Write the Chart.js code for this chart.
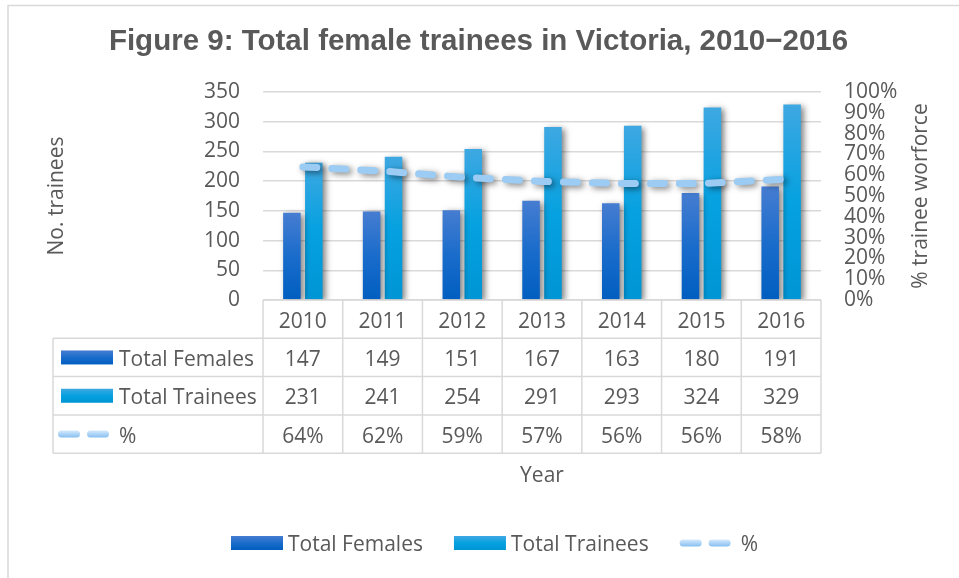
<!DOCTYPE html>
<html>
<head>
<meta charset="utf-8">
<title>Figure 9</title>
<script src="https://cdn.jsdelivr.net/npm/chart.js@4.4.1/dist/chart.umd.min.js"></script>
<style>
  html, body { margin: 0; padding: 0; background: #fff; }
  #grafico-wrap { width: 959px; height: 578px; position: relative; }
</style>
</head>
<body>
<div id="grafico-wrap"><canvas id="grafico"></canvas></div>
<script>
// ------------------------------------------------------------
// Dados (Figure 9)
// ------------------------------------------------------------
const anos          = ['2010', '2011', '2012', '2013', '2014', '2015', '2016'];
const totalFemales  = [147, 149, 151, 167, 163, 180, 191];
const totalTrainees = [231, 241, 254, 291, 293, 324, 329];
const percentual    = [64, 62, 59, 57, 56, 56, 58];

const nomesSeries = ['Total Females', 'Total Trainees', '%'];

// eixos
const eixoTraineesMax = 350, eixoTraineesPasso = 50;
const eixoPctMax = 100, eixoPctPasso = 10;

// estilo
const FONTE   = "'Open Sans', Lato, sans-serif";
const TITULO  = "'Liberation Sans', Arial, sans-serif";
const CINZA   = '#595959';
const GRADE   = '#d9d9d9';
const TAM     = 21;

// gradiente vertical de cada barra (do topo da barra até o zero)
function gradienteBarra(context, cores) {
  const chart = context.chart;
  const y = chart.scales.y;
  if (!chart.chartArea || !y || context.raw == null) return cores[cores.length - 1];
  const topo = y.getPixelForValue(context.raw);
  const base = y.getPixelForValue(0);
  const g = chart.ctx.createLinearGradient(0, topo, 0, base);
  cores.forEach((c, i) => g.addColorStop(i / (cores.length - 1), c));
  return g;
}

const coresFemales  = ['#467dd1', '#1a6ccb', '#005ec0'];
const coresTrainees = ['#3ea8e2', '#05a1e0', '#0095d5'];
const corLinha      = '#9ccbf3';

// desenha a amostra (legenda / tabela) de cada série
function desenharAmostra(ctx, serie, x, yMeio) {
  if (serie < 2) {
    const cores = serie === 0 ? coresFemales : coresTrainees;
    const g = ctx.createLinearGradient(0, yMeio - 7, 0, yMeio + 7);
    cores.forEach((c, i) => g.addColorStop(i / (cores.length - 1), c));
    ctx.fillStyle = g;
    ctx.fillRect(x, yMeio - 7, 52, 14);
  } else {
    const g = ctx.createLinearGradient(0, yMeio - 3.5, 0, yMeio + 3.5);
    g.addColorStop(0, '#d4e9fc');
    g.addColorStop(1, '#86bff0');
    ctx.strokeStyle = g;
    ctx.lineWidth = 7;
    ctx.lineCap = 'round';
    ctx.beginPath();
    ctx.moveTo(x + 3.5, yMeio); ctx.lineTo(x + 18.5, yMeio);
    ctx.moveTo(x + 32.5, yMeio); ctx.lineTo(x + 47.5, yMeio);
    ctx.stroke();
  }
}

// sombra cinza atrás das barras e da linha, como no Excel
const sombra = {
  id: 'sombra',
  beforeDatasetDraw(chart) {
    const ctx = chart.ctx;
    ctx.save();
    ctx.shadowColor = 'rgba(0,0,0,0.5)';
    ctx.shadowBlur = 6;
    ctx.shadowOffsetX = 3;
    ctx.shadowOffsetY = 2;
  },
  afterDatasetDraw(chart) {
    chart.ctx.restore();
  }
};

// tabela de dados abaixo do gráfico + título do eixo direito + legenda + moldura
const tabelaDados = {
  id: 'tabelaDados',
  afterDraw(chart) {
    const ctx = chart.ctx;
    const area = chart.chartArea;
    const n = anos.length;
    const larg = (area.right - area.left) / n;
    const alt = 38.3;
    const esq = 53;
    const y0 = area.bottom;
    const ajuste = 2.5; // Open Sans fica um pouco alta com baseline 'middle'

    ctx.save();

    // moldura externa (só topo e esquerda aparecem)
    ctx.strokeStyle = GRADE;
    ctx.lineWidth = 1.5;
    ctx.beginPath();
    ctx.moveTo(8, 578); ctx.lineTo(8, 5.5); ctx.lineTo(959, 5.5);
    ctx.stroke();

    // linhas da tabela
    ctx.beginPath();
    ctx.moveTo(area.left, y0); ctx.lineTo(area.right, y0);
    for (let r = 1; r <= 4; r++) {
      ctx.moveTo(esq, y0 + r * alt); ctx.lineTo(area.right, y0 + r * alt);
    }
    for (let i = 0; i <= n; i++) {
      const x = area.left + i * larg;
      ctx.moveTo(x, y0); ctx.lineTo(x, y0 + 4 * alt);
    }
    ctx.moveTo(esq, y0 + alt); ctx.lineTo(esq, y0 + 4 * alt);
    ctx.stroke();

    // textos da tabela
    ctx.fillStyle = CINZA;
    ctx.font = `${TAM}px ${FONTE}`;
    ctx.textAlign = 'center';
    ctx.textBaseline = 'middle';
    const valores = [totalFemales, totalTrainees, percentual.map(p => p + '%')];
    anos.forEach((ano, i) => {
      const cx = chart.scales.x.getPixelForValue(i);
      ctx.fillText(ano, cx, y0 + alt / 2 + ajuste);
      valores.forEach((serie, r) => {
        ctx.fillText(String(serie[i]), cx, y0 + (r + 1.5) * alt + ajuste);
      });
    });

    // coluna da legenda na tabela
    ctx.textAlign = 'left';
    nomesSeries.forEach((nome, r) => {
      const ym = y0 + (r + 1.5) * alt;
      desenharAmostra(ctx, r, r < 2 ? 61 : 58, ym);
      ctx.fillStyle = CINZA;
      ctx.fillText(nome, 119, ym + ajuste);
    });

    // título do eixo direito (lido de baixo para cima)
    ctx.save();
    ctx.translate(921, (area.top + area.bottom) / 2);
    ctx.rotate(-Math.PI / 2);
    ctx.textAlign = 'center';
    ctx.fillText('% trainee worforce', 0, 0);
    ctx.restore();

    // legenda inferior
    let x = 231;
    const yl = 543;
    nomesSeries.forEach((nome, r) => {
      desenharAmostra(ctx, r, x, yl);
      x += r < 2 ? 57 : 61;
      ctx.fillStyle = CINZA;
      ctx.textAlign = 'left';
      ctx.fillText(nome, x, yl + ajuste);
      x += ctx.measureText(nome).width + 31;
    });

    ctx.restore();
  }
};

Chart.defaults.font.family = FONTE;
Chart.defaults.color = CINZA;

new Chart(document.getElementById('grafico'), {
  data: {
    labels: anos,
    datasets: [
      {
        type: 'line',
        label: '%',
        data: percentual,
        yAxisID: 'y2',
        borderColor: corLinha,
        borderWidth: 7,
        borderDash: [14, 15],
        borderCapStyle: 'round',
        pointRadius: 0,
        tension: 0,
        order: 0
      },
      {
        type: 'bar',
        label: 'Total Females',
        data: totalFemales,
        backgroundColor: c => gradienteBarra(c, coresFemales),
        categoryPercentage: 0.55,
        barPercentage: 0.8,
        order: 1
      },
      {
        type: 'bar',
        label: 'Total Trainees',
        data: totalTrainees,
        backgroundColor: c => gradienteBarra(c, coresTrainees),
        categoryPercentage: 0.55,
        barPercentage: 0.8,
        order: 1
      }
    ]
  },
  options: {
    responsive: true,
    maintainAspectRatio: false,
    animation: false,
    events: [],
    layout: { padding: { left: 8, right: 10, top: 0, bottom: 0 } },
    plugins: {
      legend: { display: false },   // legenda desenhada à mão (igual à da tabela)
      tooltip: { enabled: false },
      title: {
        display: true,
        text: 'Figure 9: Total female trainees in Victoria, 2010\u22122016',
        color: CINZA,
        font: { family: TITULO, size: 29.5, weight: 'bold' },
        padding: { top: 24.3, bottom: 32.3 }
      }
    },
    scales: {
      x: {
        offset: true,
        grid: { display: false },
        border: { display: false },
        ticks: { display: false },
        title: {
          display: true, text: 'Year', color: CINZA,
          font: { family: FONTE, size: TAM },
          padding: { top: 0, bottom: 89 }
        },
        afterFit: s => { s.height = 278; }
      },
      y: {
        position: 'left',
        min: 0, max: eixoTraineesMax,
        ticks: { stepSize: eixoTraineesPasso, autoSkip: false, padding: 23, color: CINZA, font: { size: TAM } },
        grid: { color: GRADE, lineWidth: 1.5, drawTicks: false },
        border: { display: false },
        title: {
          display: true, text: 'No. trainees', color: CINZA,
          font: { family: FONTE, size: TAM },
          padding: { top: 36.4, bottom: 0 }
        },
        afterFit: s => { s.width = 255; }
      },
      y2: {
        position: 'right',
        min: 0, max: eixoPctMax,
        ticks: {
          stepSize: eixoPctPasso, autoSkip: false, padding: 23, color: CINZA,
          font: { size: TAM, lineHeight: 1 },
          callback: v => v + '%'
        },
        grid: { display: false, drawTicks: false },
        border: { display: false },
        afterFit: s => { s.width = 128; }
      }
    }
  },
  plugins: [sombra, tabelaDados]
});
</script>
</body>
</html>
